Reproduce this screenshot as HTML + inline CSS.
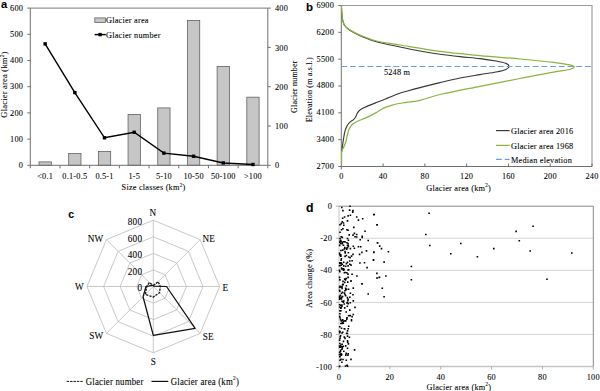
<!DOCTYPE html>
<html><head><meta charset="utf-8"><style>
html,body{margin:0;padding:0;background:#fff;width:600px;height:391px;overflow:hidden}
svg{display:block}
text{fill:#000;stroke:#000;stroke-width:0.08px}
</style></head><body>
<svg width="600" height="391" viewBox="0 0 600 391">
<rect width="600" height="391" fill="#fff"/>
<text x="0" y="0" font-size="11.2" text-anchor="start" font-family='"Liberation Sans", sans-serif' font-weight="bold" dominant-baseline="central" transform="translate(1.10,3.90) scale(1,1.0)">a</text>
<rect x="38.99" y="161.89" width="12.3" height="3.41" fill="#c6c6c6" stroke="#626262" stroke-width="0.8"/>
<rect x="68.68" y="153.51" width="12.3" height="11.79" fill="#c6c6c6" stroke="#626262" stroke-width="0.8"/>
<rect x="98.37" y="151.41" width="12.3" height="13.89" fill="#c6c6c6" stroke="#626262" stroke-width="0.8"/>
<rect x="128.06" y="114.47" width="12.3" height="50.83" fill="#c6c6c6" stroke="#626262" stroke-width="0.8"/>
<rect x="157.74" y="107.92" width="12.3" height="57.38" fill="#c6c6c6" stroke="#626262" stroke-width="0.8"/>
<rect x="187.43" y="20.41" width="12.3" height="144.89" fill="#c6c6c6" stroke="#626262" stroke-width="0.8"/>
<rect x="217.12" y="66.53" width="12.3" height="98.77" fill="#c6c6c6" stroke="#626262" stroke-width="0.8"/>
<rect x="246.81" y="97.18" width="12.3" height="68.12" fill="#c6c6c6" stroke="#626262" stroke-width="0.8"/>
<path d="M30.3,8.1 H267.8" fill="none" stroke="#959595" stroke-width="1.1"/>
<path d="M267.8,8.1 V165.3 H30.3 V8.1" fill="none" stroke="#707070" stroke-width="1"/>
<line x1="27.3" y1="165.30" x2="30.3" y2="165.30" stroke="#707070" stroke-width="1"/>
<text x="0" y="0" font-size="8.3" text-anchor="end" font-family='"Liberation Serif", serif' font-weight="normal" letter-spacing="0.2" dominant-baseline="central" transform="translate(23.10,164.90) scale(1,1.1)">0</text>
<line x1="27.3" y1="139.10" x2="30.3" y2="139.10" stroke="#707070" stroke-width="1"/>
<text x="0" y="0" font-size="8.3" text-anchor="end" font-family='"Liberation Serif", serif' font-weight="normal" letter-spacing="0.2" dominant-baseline="central" transform="translate(23.10,138.70) scale(1,1.1)">100</text>
<line x1="27.3" y1="112.90" x2="30.3" y2="112.90" stroke="#707070" stroke-width="1"/>
<text x="0" y="0" font-size="8.3" text-anchor="end" font-family='"Liberation Serif", serif' font-weight="normal" letter-spacing="0.2" dominant-baseline="central" transform="translate(23.10,112.50) scale(1,1.1)">200</text>
<line x1="27.3" y1="86.70" x2="30.3" y2="86.70" stroke="#707070" stroke-width="1"/>
<text x="0" y="0" font-size="8.3" text-anchor="end" font-family='"Liberation Serif", serif' font-weight="normal" letter-spacing="0.2" dominant-baseline="central" transform="translate(23.10,86.30) scale(1,1.1)">300</text>
<line x1="27.3" y1="60.50" x2="30.3" y2="60.50" stroke="#707070" stroke-width="1"/>
<text x="0" y="0" font-size="8.3" text-anchor="end" font-family='"Liberation Serif", serif' font-weight="normal" letter-spacing="0.2" dominant-baseline="central" transform="translate(23.10,60.10) scale(1,1.1)">400</text>
<line x1="27.3" y1="34.30" x2="30.3" y2="34.30" stroke="#707070" stroke-width="1"/>
<text x="0" y="0" font-size="8.3" text-anchor="end" font-family='"Liberation Serif", serif' font-weight="normal" letter-spacing="0.2" dominant-baseline="central" transform="translate(23.10,33.90) scale(1,1.1)">500</text>
<line x1="27.3" y1="8.10" x2="30.3" y2="8.10" stroke="#707070" stroke-width="1"/>
<text x="0" y="0" font-size="8.3" text-anchor="end" font-family='"Liberation Serif", serif' font-weight="normal" letter-spacing="0.2" dominant-baseline="central" transform="translate(23.10,7.70) scale(1,1.1)">600</text>
<line x1="267.8" y1="165.30" x2="270.8" y2="165.30" stroke="#707070" stroke-width="1"/>
<text x="0" y="0" font-size="8.3" text-anchor="start" font-family='"Liberation Serif", serif' font-weight="normal" letter-spacing="0.2" dominant-baseline="central" transform="translate(275.00,165.30) scale(1,1.1)">0</text>
<line x1="267.8" y1="126.00" x2="270.8" y2="126.00" stroke="#707070" stroke-width="1"/>
<text x="0" y="0" font-size="8.3" text-anchor="start" font-family='"Liberation Serif", serif' font-weight="normal" letter-spacing="0.2" dominant-baseline="central" transform="translate(275.00,126.00) scale(1,1.1)">100</text>
<line x1="267.8" y1="86.70" x2="270.8" y2="86.70" stroke="#707070" stroke-width="1"/>
<text x="0" y="0" font-size="8.3" text-anchor="start" font-family='"Liberation Serif", serif' font-weight="normal" letter-spacing="0.2" dominant-baseline="central" transform="translate(275.00,86.70) scale(1,1.1)">200</text>
<line x1="267.8" y1="47.40" x2="270.8" y2="47.40" stroke="#707070" stroke-width="1"/>
<text x="0" y="0" font-size="8.3" text-anchor="start" font-family='"Liberation Serif", serif' font-weight="normal" letter-spacing="0.2" dominant-baseline="central" transform="translate(275.00,47.40) scale(1,1.1)">300</text>
<line x1="267.8" y1="8.10" x2="270.8" y2="8.10" stroke="#707070" stroke-width="1"/>
<text x="0" y="0" font-size="8.3" text-anchor="start" font-family='"Liberation Serif", serif' font-weight="normal" letter-spacing="0.2" dominant-baseline="central" transform="translate(275.00,8.10) scale(1,1.1)">400</text>
<line x1="30.30" y1="165.3" x2="30.30" y2="168.3" stroke="#707070" stroke-width="1"/>
<line x1="59.99" y1="165.3" x2="59.99" y2="168.3" stroke="#707070" stroke-width="1"/>
<line x1="89.67" y1="165.3" x2="89.67" y2="168.3" stroke="#707070" stroke-width="1"/>
<line x1="119.36" y1="165.3" x2="119.36" y2="168.3" stroke="#707070" stroke-width="1"/>
<line x1="149.05" y1="165.3" x2="149.05" y2="168.3" stroke="#707070" stroke-width="1"/>
<line x1="178.74" y1="165.3" x2="178.74" y2="168.3" stroke="#707070" stroke-width="1"/>
<line x1="208.43" y1="165.3" x2="208.43" y2="168.3" stroke="#707070" stroke-width="1"/>
<line x1="238.11" y1="165.3" x2="238.11" y2="168.3" stroke="#707070" stroke-width="1"/>
<line x1="267.80" y1="165.3" x2="267.80" y2="168.3" stroke="#707070" stroke-width="1"/>
<text x="0" y="0" font-size="8.3" text-anchor="middle" font-family='"Liberation Serif", serif' font-weight="normal" letter-spacing="0.2" dominant-baseline="central" transform="translate(45.14,176.00) scale(1,1.1)">&lt;0.1</text>
<text x="0" y="0" font-size="8.3" text-anchor="middle" font-family='"Liberation Serif", serif' font-weight="normal" letter-spacing="0.2" dominant-baseline="central" transform="translate(74.83,176.00) scale(1,1.1)">0.1-0.5</text>
<text x="0" y="0" font-size="8.3" text-anchor="middle" font-family='"Liberation Serif", serif' font-weight="normal" letter-spacing="0.2" dominant-baseline="central" transform="translate(104.52,176.00) scale(1,1.1)">0.5-1</text>
<text x="0" y="0" font-size="8.3" text-anchor="middle" font-family='"Liberation Serif", serif' font-weight="normal" letter-spacing="0.2" dominant-baseline="central" transform="translate(134.21,176.00) scale(1,1.1)">1-5</text>
<text x="0" y="0" font-size="8.3" text-anchor="middle" font-family='"Liberation Serif", serif' font-weight="normal" letter-spacing="0.2" dominant-baseline="central" transform="translate(163.89,176.00) scale(1,1.1)">5-10</text>
<text x="0" y="0" font-size="8.3" text-anchor="middle" font-family='"Liberation Serif", serif' font-weight="normal" letter-spacing="0.2" dominant-baseline="central" transform="translate(193.58,176.00) scale(1,1.1)">10-50</text>
<text x="0" y="0" font-size="8.3" text-anchor="middle" font-family='"Liberation Serif", serif' font-weight="normal" letter-spacing="0.2" dominant-baseline="central" transform="translate(223.27,176.00) scale(1,1.1)">50-100</text>
<text x="0" y="0" font-size="8.3" text-anchor="middle" font-family='"Liberation Serif", serif' font-weight="normal" letter-spacing="0.2" dominant-baseline="central" transform="translate(252.96,176.00) scale(1,1.1)">&gt;100</text>
<text x="0" y="0" font-size="8.3" text-anchor="middle" font-family='"Liberation Serif", serif' font-weight="normal" letter-spacing="0.2" dominant-baseline="central" transform="translate(153.50,187.30) scale(1,1.1)">Size classes (km<tspan font-size="5.2" dy="-2.6">2</tspan><tspan dy="2.6">)</tspan></text>
<g transform="translate(4.4,84.6) rotate(-90)"><text x="0" y="0" font-size="8.5" text-anchor="middle" font-family='"Liberation Serif", serif' font-weight="normal" letter-spacing="0.2" dominant-baseline="central">Glacier area (km<tspan font-size="5.2" dy="-2.6">2</tspan><tspan dy="2.6">)</tspan></text></g>
<g transform="translate(294.5,86.7) rotate(-90)"><text x="0" y="0" font-size="7.95" text-anchor="middle" font-family='"Liberation Serif", serif' font-weight="normal" letter-spacing="0.2" dominant-baseline="central">Glacier number</text></g>
<polyline points="45.14,43.86 74.83,92.59 104.52,137.79 134.21,132.29 163.89,153.12 193.58,156.26 223.27,162.94 252.96,164.51" fill="none" stroke="#000" stroke-width="1.4"/>
<rect x="43.44" y="42.16" width="3.4" height="3.4" fill="#000"/>
<rect x="73.13" y="90.89" width="3.4" height="3.4" fill="#000"/>
<rect x="102.82" y="136.09" width="3.4" height="3.4" fill="#000"/>
<rect x="132.51" y="130.59" width="3.4" height="3.4" fill="#000"/>
<rect x="162.19" y="151.42" width="3.4" height="3.4" fill="#000"/>
<rect x="191.88" y="154.56" width="3.4" height="3.4" fill="#000"/>
<rect x="221.57" y="161.24" width="3.4" height="3.4" fill="#000"/>
<rect x="251.26" y="162.81" width="3.4" height="3.4" fill="#000"/>
<rect x="94.8" y="17.9" width="10.6" height="4.6" fill="#c6c6c6" stroke="#626262" stroke-width="0.8"/>
<text x="0" y="0" font-size="8.3" text-anchor="start" font-family='"Liberation Serif", serif' font-weight="normal" letter-spacing="0.2" dominant-baseline="central" transform="translate(106.00,20.20) scale(1,1.1)">Glacier area</text>
<line x1="94.6" y1="34.6" x2="105.8" y2="34.6" stroke="#000" stroke-width="1.4"/>
<rect x="98.4" y="32.9" width="3.4" height="3.4" fill="#000"/>
<text x="0" y="0" font-size="8.3" text-anchor="start" font-family='"Liberation Serif", serif' font-weight="normal" letter-spacing="0.2" dominant-baseline="central" transform="translate(106.00,34.60) scale(1,1.1)">Glacier number</text>
<text x="0" y="0" font-size="11.5" text-anchor="start" font-family='"Liberation Sans", sans-serif' font-weight="bold" dominant-baseline="central" transform="translate(305.90,7.00) scale(1,1.0)">b</text>
<path d="M341.3,5.5 H592.0 V166.5" fill="none" stroke="#9a9a9a" stroke-width="1.1"/>
<path d="M341.3,5.5 V166.5 H592.0" fill="none" stroke="#707070" stroke-width="1"/>
<line x1="338.3" y1="166.50" x2="341.3" y2="166.50" stroke="#707070" stroke-width="1"/>
<text x="0" y="0" font-size="8.3" text-anchor="end" font-family='"Liberation Serif", serif' font-weight="normal" letter-spacing="0.2" dominant-baseline="central" transform="translate(334.00,165.80) scale(1,1.1)">2700</text>
<line x1="338.3" y1="139.67" x2="341.3" y2="139.67" stroke="#707070" stroke-width="1"/>
<text x="0" y="0" font-size="8.3" text-anchor="end" font-family='"Liberation Serif", serif' font-weight="normal" letter-spacing="0.2" dominant-baseline="central" transform="translate(334.00,138.97) scale(1,1.1)">3400</text>
<line x1="338.3" y1="112.83" x2="341.3" y2="112.83" stroke="#707070" stroke-width="1"/>
<text x="0" y="0" font-size="8.3" text-anchor="end" font-family='"Liberation Serif", serif' font-weight="normal" letter-spacing="0.2" dominant-baseline="central" transform="translate(334.00,112.13) scale(1,1.1)">4100</text>
<line x1="338.3" y1="86.00" x2="341.3" y2="86.00" stroke="#707070" stroke-width="1"/>
<text x="0" y="0" font-size="8.3" text-anchor="end" font-family='"Liberation Serif", serif' font-weight="normal" letter-spacing="0.2" dominant-baseline="central" transform="translate(334.00,85.30) scale(1,1.1)">4800</text>
<line x1="338.3" y1="59.17" x2="341.3" y2="59.17" stroke="#707070" stroke-width="1"/>
<text x="0" y="0" font-size="8.3" text-anchor="end" font-family='"Liberation Serif", serif' font-weight="normal" letter-spacing="0.2" dominant-baseline="central" transform="translate(334.00,58.47) scale(1,1.1)">5500</text>
<line x1="338.3" y1="32.33" x2="341.3" y2="32.33" stroke="#707070" stroke-width="1"/>
<text x="0" y="0" font-size="8.3" text-anchor="end" font-family='"Liberation Serif", serif' font-weight="normal" letter-spacing="0.2" dominant-baseline="central" transform="translate(334.00,31.63) scale(1,1.1)">6200</text>
<line x1="338.3" y1="5.50" x2="341.3" y2="5.50" stroke="#707070" stroke-width="1"/>
<text x="0" y="0" font-size="8.3" text-anchor="end" font-family='"Liberation Serif", serif' font-weight="normal" letter-spacing="0.2" dominant-baseline="central" transform="translate(334.00,4.80) scale(1,1.1)">6900</text>
<line x1="341.30" y1="166.5" x2="341.30" y2="169.5" stroke="#707070" stroke-width="1"/>
<text x="0" y="0" font-size="8.3" text-anchor="middle" font-family='"Liberation Serif", serif' font-weight="normal" letter-spacing="0.2" dominant-baseline="central" transform="translate(341.30,176.30) scale(1,1.1)">0</text>
<line x1="383.08" y1="163.5" x2="383.08" y2="166.5" stroke="#707070" stroke-width="1"/>
<text x="0" y="0" font-size="8.3" text-anchor="middle" font-family='"Liberation Serif", serif' font-weight="normal" letter-spacing="0.2" dominant-baseline="central" transform="translate(383.08,176.30) scale(1,1.1)">40</text>
<line x1="424.87" y1="163.5" x2="424.87" y2="166.5" stroke="#707070" stroke-width="1"/>
<text x="0" y="0" font-size="8.3" text-anchor="middle" font-family='"Liberation Serif", serif' font-weight="normal" letter-spacing="0.2" dominant-baseline="central" transform="translate(424.87,176.30) scale(1,1.1)">80</text>
<line x1="466.65" y1="163.5" x2="466.65" y2="166.5" stroke="#707070" stroke-width="1"/>
<text x="0" y="0" font-size="8.3" text-anchor="middle" font-family='"Liberation Serif", serif' font-weight="normal" letter-spacing="0.2" dominant-baseline="central" transform="translate(466.65,176.30) scale(1,1.1)">120</text>
<line x1="508.43" y1="163.5" x2="508.43" y2="166.5" stroke="#707070" stroke-width="1"/>
<text x="0" y="0" font-size="8.3" text-anchor="middle" font-family='"Liberation Serif", serif' font-weight="normal" letter-spacing="0.2" dominant-baseline="central" transform="translate(508.43,176.30) scale(1,1.1)">160</text>
<line x1="550.22" y1="163.5" x2="550.22" y2="166.5" stroke="#707070" stroke-width="1"/>
<text x="0" y="0" font-size="8.3" text-anchor="middle" font-family='"Liberation Serif", serif' font-weight="normal" letter-spacing="0.2" dominant-baseline="central" transform="translate(550.22,176.30) scale(1,1.1)">200</text>
<line x1="592.00" y1="163.5" x2="592.00" y2="166.5" stroke="#707070" stroke-width="1"/>
<text x="0" y="0" font-size="8.3" text-anchor="middle" font-family='"Liberation Serif", serif' font-weight="normal" letter-spacing="0.2" dominant-baseline="central" transform="translate(592.00,176.30) scale(1,1.1)">240</text>
<text x="0" y="0" font-size="8.3" text-anchor="middle" font-family='"Liberation Serif", serif' font-weight="normal" letter-spacing="0.2" dominant-baseline="central" transform="translate(458.60,187.50) scale(1,1.1)">Glacier area (km<tspan font-size="5.2" dy="-2.6">2</tspan><tspan dy="2.6">)</tspan></text>
<g transform="translate(309.8,89.8) rotate(-90)"><text x="0" y="0" font-size="8.0" text-anchor="middle" font-family='"Liberation Serif", serif' font-weight="normal" letter-spacing="0.2" dominant-baseline="central">Elevation (m a.s.l.)</text></g>
<path d="M341.60,152.00 C341.70,151.40 341.98,149.90 342.20,148.40 C342.42,146.90 342.60,145.10 342.90,143.00 C343.20,140.90 343.62,137.90 344.00,135.80 C344.38,133.70 344.70,132.03 345.20,130.40 C345.70,128.77 346.25,127.33 347.00,126.00 C347.75,124.67 348.60,123.47 349.70,122.40 C350.80,121.33 352.58,120.53 353.60,119.60 C354.62,118.67 355.13,117.97 355.80,116.80 C356.47,115.63 356.80,113.83 357.60,112.60 C358.40,111.37 359.12,110.40 360.60,109.40 C362.08,108.40 363.63,107.83 366.50,106.60 C369.37,105.37 374.20,103.45 377.80,102.00 C381.40,100.55 384.68,99.27 388.10,97.90 C391.52,96.53 394.90,95.00 398.30,93.80 C401.70,92.60 404.88,91.73 408.50,90.70 C412.12,89.67 414.75,88.95 420.00,87.60 C425.25,86.25 433.33,84.20 440.00,82.60 C446.67,81.00 453.33,79.33 460.00,78.00 C466.67,76.67 474.00,75.60 480.00,74.60 C486.00,73.60 491.67,72.87 496.00,72.00 C500.33,71.13 503.83,70.37 506.00,69.40 C508.17,68.43 509.00,67.20 509.00,66.20 C509.00,65.20 508.17,64.27 506.00,63.40 C503.83,62.53 500.33,61.80 496.00,61.00 C491.67,60.20 486.00,59.33 480.00,58.60 C474.00,57.87 466.67,57.33 460.00,56.60 C453.33,55.87 446.67,55.13 440.00,54.20 C433.33,53.27 426.67,52.20 420.00,51.00 C413.33,49.80 407.27,48.53 400.00,47.00 C392.73,45.47 382.47,43.43 376.40,41.80 C370.33,40.17 367.23,38.67 363.60,37.20 C359.97,35.73 357.17,34.37 354.60,33.00 C352.03,31.63 349.90,30.30 348.20,29.00 C346.50,27.70 345.35,26.78 344.40,25.20 C343.45,23.62 342.93,21.53 342.50,19.50 C342.07,17.47 341.97,14.92 341.80,13.00 C341.63,11.08 341.55,8.83 341.50,8.00" fill="none" stroke="#383838" stroke-width="1.15"/>
<path d="M341.60,163.00 C341.63,161.00 341.47,153.58 341.80,151.00 C342.13,148.42 342.93,149.00 343.60,147.50 C344.27,146.00 345.13,144.25 345.80,142.00 C346.47,139.75 346.98,136.28 347.60,134.00 C348.22,131.72 348.68,129.92 349.50,128.30 C350.32,126.68 351.25,125.43 352.50,124.30 C353.75,123.17 354.78,122.57 357.00,121.50 C359.22,120.43 362.83,119.25 365.80,117.90 C368.77,116.55 371.82,115.03 374.80,113.40 C377.78,111.77 380.80,109.48 383.70,108.10 C386.60,106.72 389.08,105.95 392.20,105.10 C395.32,104.25 397.77,103.80 402.40,103.00 C407.03,102.20 413.40,101.80 420.00,100.30 C426.60,98.80 432.00,96.33 442.00,94.00 C452.00,91.67 467.00,88.88 480.00,86.30 C493.00,83.72 507.78,80.85 520.00,78.50 C532.22,76.15 545.02,73.70 553.30,72.20 C561.58,70.70 566.20,70.43 569.70,69.50 C573.20,68.57 574.30,67.38 574.30,66.60 C574.30,65.82 573.20,65.52 569.70,64.80 C566.20,64.08 561.58,63.27 553.30,62.30 C545.02,61.33 532.22,60.12 520.00,59.00 C507.78,57.88 493.33,56.87 480.00,55.60 C466.67,54.33 453.33,53.17 440.00,51.40 C426.67,49.63 410.60,46.73 400.00,45.00 C389.40,43.27 382.47,42.42 376.40,41.00 C370.33,39.58 367.23,37.90 363.60,36.50 C359.97,35.10 357.17,33.88 354.60,32.60 C352.03,31.32 349.90,30.07 348.20,28.80 C346.50,27.53 345.35,26.60 344.40,25.00 C343.45,23.40 342.93,21.23 342.50,19.20 C342.07,17.17 341.97,14.93 341.80,12.80 C341.63,10.67 341.55,7.47 341.50,6.40" fill="none" stroke="#8ab440" stroke-width="1.25"/>
<line x1="341.3" y1="66.5" x2="592.0" y2="66.5" stroke="#67a0e0" stroke-width="1.15" stroke-dasharray="5.8 2.9"/>
<text x="0" y="0" font-size="8.3" text-anchor="start" font-family='"Liberation Serif", serif' font-weight="normal" letter-spacing="0.2" dominant-baseline="central" transform="translate(383.90,71.80) scale(1,1.1)">5248 m</text>
<line x1="496" y1="130.6" x2="509.6" y2="130.6" stroke="#383838" stroke-width="1.15"/>
<text x="0" y="0" font-size="8.3" text-anchor="start" font-family='"Liberation Serif", serif' font-weight="normal" letter-spacing="0.2" dominant-baseline="central" transform="translate(511.00,130.60) scale(1,1.1)">Glacier area 2016</text>
<line x1="496" y1="145.4" x2="509.6" y2="145.4" stroke="#8ab440" stroke-width="1.25"/>
<text x="0" y="0" font-size="8.3" text-anchor="start" font-family='"Liberation Serif", serif' font-weight="normal" letter-spacing="0.2" dominant-baseline="central" transform="translate(511.00,145.40) scale(1,1.1)">Glacier area 1968</text>
<line x1="496" y1="159.4" x2="509.6" y2="159.4" stroke="#67a0e0" stroke-width="1.15" stroke-dasharray="5.8 2.9"/>
<text x="0" y="0" font-size="8.3" text-anchor="start" font-family='"Liberation Serif", serif' font-weight="normal" letter-spacing="0.2" dominant-baseline="central" transform="translate(511.00,159.40) scale(1,1.1)">Median elevation</text>
<text x="0" y="0" font-size="10.5" text-anchor="start" font-family='"Liberation Sans", sans-serif' font-weight="bold" dominant-baseline="central" transform="translate(68.30,214.40) scale(1,1.0)">c</text>
<polygon points="153.30,269.93 165.02,274.78 169.88,286.50 165.02,298.22 153.30,303.07 141.58,298.22 136.73,286.50 141.58,274.78" fill="none" stroke="#c3c3c3" stroke-width="0.9"/>
<polygon points="153.30,253.35 176.74,263.06 186.45,286.50 176.74,309.94 153.30,319.65 129.86,309.94 120.15,286.50 129.86,263.06" fill="none" stroke="#c3c3c3" stroke-width="0.9"/>
<polygon points="153.30,236.78 188.46,251.34 203.03,286.50 188.46,321.66 153.30,336.23 118.14,321.66 103.58,286.50 118.14,251.34" fill="none" stroke="#c3c3c3" stroke-width="0.9"/>
<polygon points="153.30,220.20 200.18,239.62 219.60,286.50 200.18,333.38 153.30,352.80 106.42,333.38 87.00,286.50 106.42,239.62" fill="none" stroke="#c3c3c3" stroke-width="0.9"/>
<line x1="153.3" y1="286.5" x2="153.30" y2="220.20" stroke="#c3c3c3" stroke-width="0.9"/>
<line x1="153.3" y1="286.5" x2="200.18" y2="239.62" stroke="#c3c3c3" stroke-width="0.9"/>
<line x1="153.3" y1="286.5" x2="219.60" y2="286.50" stroke="#c3c3c3" stroke-width="0.9"/>
<line x1="153.3" y1="286.5" x2="200.18" y2="333.38" stroke="#c3c3c3" stroke-width="0.9"/>
<line x1="153.3" y1="286.5" x2="153.30" y2="352.80" stroke="#c3c3c3" stroke-width="0.9"/>
<line x1="153.3" y1="286.5" x2="106.42" y2="333.38" stroke="#c3c3c3" stroke-width="0.9"/>
<line x1="153.3" y1="286.5" x2="87.00" y2="286.50" stroke="#c3c3c3" stroke-width="0.9"/>
<line x1="153.3" y1="286.5" x2="106.42" y2="239.62" stroke="#c3c3c3" stroke-width="0.9"/>
<text x="0" y="0" font-size="9.2" text-anchor="end" font-family='"Liberation Serif", serif' font-weight="normal" letter-spacing="0.2" dominant-baseline="central" transform="translate(142.20,287.60) scale(1,1.1)">0</text>
<text x="0" y="0" font-size="9.2" text-anchor="end" font-family='"Liberation Serif", serif' font-weight="normal" letter-spacing="0.2" dominant-baseline="central" transform="translate(142.20,271.03) scale(1,1.1)">200</text>
<text x="0" y="0" font-size="9.2" text-anchor="end" font-family='"Liberation Serif", serif' font-weight="normal" letter-spacing="0.2" dominant-baseline="central" transform="translate(142.20,254.45) scale(1,1.1)">400</text>
<text x="0" y="0" font-size="9.2" text-anchor="end" font-family='"Liberation Serif", serif' font-weight="normal" letter-spacing="0.2" dominant-baseline="central" transform="translate(142.20,237.88) scale(1,1.1)">600</text>
<text x="0" y="0" font-size="9.2" text-anchor="end" font-family='"Liberation Serif", serif' font-weight="normal" letter-spacing="0.2" dominant-baseline="central" transform="translate(142.20,221.30) scale(1,1.1)">800</text>
<text x="0" y="0" font-size="9.2" text-anchor="middle" font-family='"Liberation Serif", serif' font-weight="normal" letter-spacing="0.2" dominant-baseline="central" transform="translate(152.90,212.00) scale(1,1.1)">N</text>
<text x="0" y="0" font-size="9.2" text-anchor="middle" font-family='"Liberation Serif", serif' font-weight="normal" letter-spacing="0.2" dominant-baseline="central" transform="translate(208.70,238.20) scale(1,1.1)">NE</text>
<text x="0" y="0" font-size="9.2" text-anchor="middle" font-family='"Liberation Serif", serif' font-weight="normal" letter-spacing="0.2" dominant-baseline="central" transform="translate(225.30,287.30) scale(1,1.1)">E</text>
<text x="0" y="0" font-size="9.2" text-anchor="middle" font-family='"Liberation Serif", serif' font-weight="normal" letter-spacing="0.2" dominant-baseline="central" transform="translate(208.20,336.10) scale(1,1.1)">SE</text>
<text x="0" y="0" font-size="9.2" text-anchor="middle" font-family='"Liberation Serif", serif' font-weight="normal" letter-spacing="0.2" dominant-baseline="central" transform="translate(153.30,361.70) scale(1,1.1)">S</text>
<text x="0" y="0" font-size="9.2" text-anchor="middle" font-family='"Liberation Serif", serif' font-weight="normal" letter-spacing="0.2" dominant-baseline="central" transform="translate(96.30,335.70) scale(1,1.1)">SW</text>
<text x="0" y="0" font-size="9.2" text-anchor="middle" font-family='"Liberation Serif", serif' font-weight="normal" letter-spacing="0.2" dominant-baseline="central" transform="translate(79.40,286.60) scale(1,1.1)">W</text>
<text x="0" y="0" font-size="9.2" text-anchor="middle" font-family='"Liberation Serif", serif' font-weight="normal" letter-spacing="0.2" dominant-baseline="central" transform="translate(95.50,238.20) scale(1,1.1)">NW</text>
<polygon points="153.30,285.50 158.18,281.62 160.30,286.50 159.52,292.72 153.30,297.00 145.31,294.49 146.70,286.50 149.27,282.47" fill="none" stroke="#111" stroke-width="1.3" stroke-dasharray="2.3 1.1"/>
<polygon points="153.30,285.50 153.65,286.15 166.50,286.50 195.16,328.36 153.30,335.30 143.05,296.75 146.00,286.50 152.24,285.44" fill="none" stroke="#111" stroke-width="1.25" stroke-linejoin="round"/>
<line x1="66.7" y1="381.4" x2="83.3" y2="381.4" stroke="#111" stroke-width="1" stroke-dasharray="2.4 1"/>
<text x="0" y="0" font-size="8.8" text-anchor="start" font-family='"Liberation Serif", serif' font-weight="normal" letter-spacing="0.2" dominant-baseline="central" transform="translate(85.80,381.40) scale(1,1.1)">Glacier number</text>
<line x1="151.5" y1="381.4" x2="168.3" y2="381.4" stroke="#111" stroke-width="1.2"/>
<text x="0" y="0" font-size="8.8" text-anchor="start" font-family='"Liberation Serif", serif' font-weight="normal" letter-spacing="0.2" dominant-baseline="central" transform="translate(170.70,381.40) scale(1,1.1)">Glacier area (km<tspan font-size="5.4" dy="-2.9">2</tspan><tspan dy="2.9">)</tspan></text>
<text x="0" y="0" font-size="12.3" text-anchor="start" font-family='"Liberation Sans", sans-serif' font-weight="bold" dominant-baseline="central" transform="translate(306.00,207.90) scale(1,1.0)">d</text>
<line x1="339.0" y1="238.26" x2="593.3" y2="238.26" stroke="#cfcfcf" stroke-width="0.9"/>
<line x1="339.0" y1="270.32" x2="593.3" y2="270.32" stroke="#cfcfcf" stroke-width="0.9"/>
<line x1="339.0" y1="302.38" x2="593.3" y2="302.38" stroke="#cfcfcf" stroke-width="0.9"/>
<line x1="339.0" y1="334.44" x2="593.3" y2="334.44" stroke="#cfcfcf" stroke-width="0.9"/>
<path d="M339.0,366.5 V206.2" fill="none" stroke="#cfcfcf" stroke-width="1.2"/>
<path d="M339.0,366.5 H593.3" fill="none" stroke="#c4c4c4" stroke-width="1.3"/>
<path d="M339.0,206.2 H593.3 V366.5" fill="none" stroke="#8a8a8a" stroke-width="1"/>
<line x1="336.0" y1="206.20" x2="339.0" y2="206.20" stroke="#b0b0b0" stroke-width="1"/>
<text x="0" y="0" font-size="8.3" text-anchor="end" font-family='"Liberation Serif", serif' font-weight="normal" letter-spacing="0.2" dominant-baseline="central" transform="translate(332.00,206.20) scale(1,1.1)">0</text>
<line x1="336.0" y1="238.26" x2="339.0" y2="238.26" stroke="#b0b0b0" stroke-width="1"/>
<text x="0" y="0" font-size="8.3" text-anchor="end" font-family='"Liberation Serif", serif' font-weight="normal" letter-spacing="0.2" dominant-baseline="central" transform="translate(332.00,238.26) scale(1,1.1)">-20</text>
<line x1="336.0" y1="270.32" x2="339.0" y2="270.32" stroke="#b0b0b0" stroke-width="1"/>
<text x="0" y="0" font-size="8.3" text-anchor="end" font-family='"Liberation Serif", serif' font-weight="normal" letter-spacing="0.2" dominant-baseline="central" transform="translate(332.00,270.32) scale(1,1.1)">-40</text>
<line x1="336.0" y1="302.38" x2="339.0" y2="302.38" stroke="#b0b0b0" stroke-width="1"/>
<text x="0" y="0" font-size="8.3" text-anchor="end" font-family='"Liberation Serif", serif' font-weight="normal" letter-spacing="0.2" dominant-baseline="central" transform="translate(332.00,302.38) scale(1,1.1)">-60</text>
<line x1="336.0" y1="334.44" x2="339.0" y2="334.44" stroke="#b0b0b0" stroke-width="1"/>
<text x="0" y="0" font-size="8.3" text-anchor="end" font-family='"Liberation Serif", serif' font-weight="normal" letter-spacing="0.2" dominant-baseline="central" transform="translate(332.00,334.44) scale(1,1.1)">-80</text>
<line x1="336.0" y1="366.50" x2="339.0" y2="366.50" stroke="#b0b0b0" stroke-width="1"/>
<text x="0" y="0" font-size="8.3" text-anchor="end" font-family='"Liberation Serif", serif' font-weight="normal" letter-spacing="0.2" dominant-baseline="central" transform="translate(332.00,366.50) scale(1,1.1)">-100</text>
<line x1="339.00" y1="366.5" x2="339.00" y2="369.5" stroke="#b0b0b0" stroke-width="1"/>
<text x="0" y="0" font-size="8.3" text-anchor="middle" font-family='"Liberation Serif", serif' font-weight="normal" letter-spacing="0.2" dominant-baseline="central" transform="translate(339.00,377.10) scale(1,1.1)">0</text>
<line x1="389.86" y1="366.5" x2="389.86" y2="369.5" stroke="#b0b0b0" stroke-width="1"/>
<text x="0" y="0" font-size="8.3" text-anchor="middle" font-family='"Liberation Serif", serif' font-weight="normal" letter-spacing="0.2" dominant-baseline="central" transform="translate(389.86,377.10) scale(1,1.1)">20</text>
<line x1="440.72" y1="366.5" x2="440.72" y2="369.5" stroke="#b0b0b0" stroke-width="1"/>
<text x="0" y="0" font-size="8.3" text-anchor="middle" font-family='"Liberation Serif", serif' font-weight="normal" letter-spacing="0.2" dominant-baseline="central" transform="translate(440.72,377.10) scale(1,1.1)">40</text>
<line x1="491.58" y1="366.5" x2="491.58" y2="369.5" stroke="#b0b0b0" stroke-width="1"/>
<text x="0" y="0" font-size="8.3" text-anchor="middle" font-family='"Liberation Serif", serif' font-weight="normal" letter-spacing="0.2" dominant-baseline="central" transform="translate(491.58,377.10) scale(1,1.1)">60</text>
<line x1="542.44" y1="366.5" x2="542.44" y2="369.5" stroke="#b0b0b0" stroke-width="1"/>
<text x="0" y="0" font-size="8.3" text-anchor="middle" font-family='"Liberation Serif", serif' font-weight="normal" letter-spacing="0.2" dominant-baseline="central" transform="translate(542.44,377.10) scale(1,1.1)">80</text>
<line x1="593.30" y1="366.5" x2="593.30" y2="369.5" stroke="#b0b0b0" stroke-width="1"/>
<text x="0" y="0" font-size="8.3" text-anchor="middle" font-family='"Liberation Serif", serif' font-weight="normal" letter-spacing="0.2" dominant-baseline="central" transform="translate(593.30,377.10) scale(1,1.1)">100</text>
<text x="0" y="0" font-size="8.3" text-anchor="middle" font-family='"Liberation Serif", serif' font-weight="normal" letter-spacing="0.2" dominant-baseline="central" transform="translate(458.80,386.40) scale(1,1.1)">Glacier area (km<tspan font-size="5.2" dy="-2.6">2</tspan><tspan dy="2.6">)</tspan></text>
<g transform="translate(309,278.4) rotate(-90)"><text x="0" y="0" font-size="8.3" text-anchor="middle" font-family='"Liberation Serif", serif' font-weight="normal" letter-spacing="0.2" dominant-baseline="central">Area change (%)</text></g>
<path d="M341.0,206.7h1.6v1.6h-1.6zM349.2,205.5h1.6v1.6h-1.6zM342.1,209.8h1.6v1.6h-1.6zM348.8,209.3h1.6v1.6h-1.6zM352.2,209.8h1.6v1.6h-1.6zM351.9,211.3h1.6v1.6h-1.6zM373.5,213.7h1.6v1.6h-1.6zM343.8,216.2h1.6v1.6h-1.6zM347.3,215.1h1.6v1.6h-1.6zM349.6,214.4h1.6v1.6h-1.6zM341.9,217.4h1.6v1.6h-1.6zM355.9,216.2h1.6v1.6h-1.6zM361.9,218.0h1.6v1.6h-1.6zM357.6,219.3h1.6v1.6h-1.6zM346.7,220.1h1.6v1.6h-1.6zM341.5,221.1h1.6v1.6h-1.6zM340.4,222.8h1.6v1.6h-1.6zM342.7,222.2h1.6v1.6h-1.6zM339.2,223.9h1.6v1.6h-1.6zM343.0,224.5h1.6v1.6h-1.6zM376.4,224.1h1.6v1.6h-1.6zM353.0,226.6h1.6v1.6h-1.6zM342.1,228.0h1.6v1.6h-1.6zM340.7,228.9h1.6v1.6h-1.6zM346.1,228.9h1.6v1.6h-1.6zM347.3,229.5h1.6v1.6h-1.6zM339.2,231.4h1.6v1.6h-1.6zM364.2,230.5h1.6v1.6h-1.6zM353.6,232.6h1.6v1.6h-1.6zM355.9,233.7h1.6v1.6h-1.6zM348.4,234.1h1.6v1.6h-1.6zM352.2,234.3h1.6v1.6h-1.6zM354.2,236.0h1.6v1.6h-1.6zM355.9,236.2h1.6v1.6h-1.6zM361.4,235.4h1.6v1.6h-1.6zM361.4,236.6h1.6v1.6h-1.6zM340.4,236.0h1.6v1.6h-1.6zM341.5,236.6h1.6v1.6h-1.6zM339.2,237.7h1.6v1.6h-1.6zM346.7,237.7h1.6v1.6h-1.6zM359.4,238.9h1.6v1.6h-1.6zM347.6,239.5h1.6v1.6h-1.6zM339.8,239.5h1.6v1.6h-1.6zM367.4,239.7h1.6v1.6h-1.6zM376.6,242.0h1.6v1.6h-1.6zM346.1,242.0h1.6v1.6h-1.6zM339.8,242.7h1.6v1.6h-1.6zM341.5,241.5h1.6v1.6h-1.6zM378.9,245.5h1.6v1.6h-1.6zM346.7,244.7h1.6v1.6h-1.6zM346.1,247.2h1.6v1.6h-1.6zM352.5,245.5h1.6v1.6h-1.6zM353.6,247.5h1.6v1.6h-1.6zM349.6,247.8h1.6v1.6h-1.6zM357.6,245.9h1.6v1.6h-1.6zM359.9,245.9h1.6v1.6h-1.6zM365.7,250.1h1.6v1.6h-1.6zM373.2,251.3h1.6v1.6h-1.6zM361.1,251.6h1.6v1.6h-1.6zM358.8,253.6h1.6v1.6h-1.6zM352.2,253.6h1.6v1.6h-1.6zM350.7,255.3h1.6v1.6h-1.6zM347.9,256.2h1.6v1.6h-1.6zM344.4,252.1h1.6v1.6h-1.6zM345.6,254.7h1.6v1.6h-1.6zM351.3,259.9h1.6v1.6h-1.6zM349.0,260.2h1.6v1.6h-1.6zM346.7,261.6h1.6v1.6h-1.6zM345.6,262.8h1.6v1.6h-1.6zM349.0,263.4h1.6v1.6h-1.6zM350.2,264.3h1.6v1.6h-1.6zM347.3,265.1h1.6v1.6h-1.6zM359.1,262.2h1.6v1.6h-1.6zM363.7,262.0h1.6v1.6h-1.6zM372.6,259.0h1.6v1.6h-1.6zM366.3,266.8h1.6v1.6h-1.6zM347.9,268.9h1.6v1.6h-1.6zM376.1,272.6h1.6v1.6h-1.6zM351.3,273.5h1.6v1.6h-1.6zM356.1,275.2h1.6v1.6h-1.6zM347.3,276.6h1.6v1.6h-1.6zM378.4,276.6h1.6v1.6h-1.6zM376.1,277.2h1.6v1.6h-1.6zM344.4,278.3h1.6v1.6h-1.6zM350.2,280.1h1.6v1.6h-1.6zM361.1,282.9h1.6v1.6h-1.6zM342.1,283.5h1.6v1.6h-1.6zM350.2,280.4h1.6v1.6h-1.6zM361.4,283.2h1.6v1.6h-1.6zM352.5,287.3h1.6v1.6h-1.6zM367.4,293.2h1.6v1.6h-1.6zM352.2,293.9h1.6v1.6h-1.6zM352.5,300.1h1.6v1.6h-1.6zM354.2,306.6h1.6v1.6h-1.6zM349.0,309.3h1.6v1.6h-1.6zM352.5,313.7h1.6v1.6h-1.6zM347.9,314.9h1.6v1.6h-1.6zM351.3,315.8h1.6v1.6h-1.6zM350.7,318.9h1.6v1.6h-1.6zM346.1,302.2h1.6v1.6h-1.6zM346.1,317.2h1.6v1.6h-1.6zM345.0,320.1h1.6v1.6h-1.6zM350.7,319.8h1.6v1.6h-1.6zM347.9,325.5h1.6v1.6h-1.6zM346.7,330.1h1.6v1.6h-1.6zM346.7,335.3h1.6v1.6h-1.6zM346.7,339.9h1.6v1.6h-1.6zM347.6,343.1h1.6v1.6h-1.6zM346.7,347.4h1.6v1.6h-1.6zM353.8,349.1h1.6v1.6h-1.6zM350.2,358.6h1.6v1.6h-1.6zM373.0,213.8h1.6v1.6h-1.6zM376.1,224.0h1.6v1.6h-1.6zM428.3,212.5h1.6v1.6h-1.6zM425.0,233.7h1.6v1.6h-1.6zM376.9,242.2h1.6v1.6h-1.6zM378.9,245.2h1.6v1.6h-1.6zM380.7,247.8h1.6v1.6h-1.6zM373.0,251.6h1.6v1.6h-1.6zM387.6,250.9h1.6v1.6h-1.6zM429.0,244.7h1.6v1.6h-1.6zM460.0,242.7h1.6v1.6h-1.6zM450.0,252.9h1.6v1.6h-1.6zM372.8,259.3h1.6v1.6h-1.6zM383.3,261.3h1.6v1.6h-1.6zM410.6,265.7h1.6v1.6h-1.6zM376.1,272.6h1.6v1.6h-1.6zM376.4,277.2h1.6v1.6h-1.6zM378.7,276.4h1.6v1.6h-1.6zM385.1,275.2h1.6v1.6h-1.6zM410.6,279.0h1.6v1.6h-1.6zM381.5,287.4h1.6v1.6h-1.6zM383.3,295.9h1.6v1.6h-1.6zM476.6,256.0h1.6v1.6h-1.6zM493.0,247.8h1.6v1.6h-1.6zM515.3,230.6h1.6v1.6h-1.6zM532.3,225.4h1.6v1.6h-1.6zM518.5,239.9h1.6v1.6h-1.6zM529.4,250.2h1.6v1.6h-1.6zM571.0,252.2h1.6v1.6h-1.6zM546.2,278.5h1.6v1.6h-1.6zM341.0,296.4h1.6v1.6h-1.6zM340.6,298.1h1.6v1.6h-1.6zM340.6,262.6h1.6v1.6h-1.6zM338.8,339.5h1.6v1.6h-1.6zM344.2,250.7h1.6v1.6h-1.6zM347.4,244.5h1.6v1.6h-1.6zM341.6,321.9h1.6v1.6h-1.6zM344.2,241.1h1.6v1.6h-1.6zM338.8,269.8h1.6v1.6h-1.6zM344.8,294.9h1.6v1.6h-1.6zM340.5,320.2h1.6v1.6h-1.6zM339.2,297.1h1.6v1.6h-1.6zM344.7,365.2h1.6v1.6h-1.6zM339.1,279.1h1.6v1.6h-1.6zM343.6,248.1h1.6v1.6h-1.6zM339.7,346.3h1.6v1.6h-1.6zM338.8,346.4h1.6v1.6h-1.6zM340.3,354.3h1.6v1.6h-1.6zM338.8,289.5h1.6v1.6h-1.6zM339.2,337.7h1.6v1.6h-1.6zM347.0,281.3h1.6v1.6h-1.6zM339.1,254.1h1.6v1.6h-1.6zM344.0,246.8h1.6v1.6h-1.6zM340.1,310.0h1.6v1.6h-1.6zM338.9,331.8h1.6v1.6h-1.6zM339.9,253.9h1.6v1.6h-1.6zM347.2,273.3h1.6v1.6h-1.6zM345.5,277.7h1.6v1.6h-1.6zM345.0,289.1h1.6v1.6h-1.6zM347.6,251.9h1.6v1.6h-1.6zM343.6,271.9h1.6v1.6h-1.6zM338.8,276.7h1.6v1.6h-1.6zM339.1,312.9h1.6v1.6h-1.6zM340.1,286.2h1.6v1.6h-1.6zM341.2,300.4h1.6v1.6h-1.6zM338.9,262.3h1.6v1.6h-1.6zM339.1,342.7h1.6v1.6h-1.6zM346.6,332.7h1.6v1.6h-1.6zM345.5,359.4h1.6v1.6h-1.6zM349.6,292.5h1.6v1.6h-1.6zM342.7,269.4h1.6v1.6h-1.6zM341.4,343.4h1.6v1.6h-1.6zM342.9,261.4h1.6v1.6h-1.6zM341.0,268.1h1.6v1.6h-1.6zM339.2,316.9h1.6v1.6h-1.6zM338.8,265.0h1.6v1.6h-1.6zM338.8,295.6h1.6v1.6h-1.6zM341.2,285.9h1.6v1.6h-1.6zM345.6,285.0h1.6v1.6h-1.6zM342.5,322.3h1.6v1.6h-1.6zM349.3,257.0h1.6v1.6h-1.6zM347.4,327.9h1.6v1.6h-1.6zM343.0,300.2h1.6v1.6h-1.6zM338.8,365.6h1.6v1.6h-1.6zM345.8,332.4h1.6v1.6h-1.6zM344.0,328.2h1.6v1.6h-1.6zM342.4,283.7h1.6v1.6h-1.6zM339.9,349.4h1.6v1.6h-1.6zM341.2,348.4h1.6v1.6h-1.6zM341.3,287.6h1.6v1.6h-1.6zM341.9,249.3h1.6v1.6h-1.6zM343.0,350.5h1.6v1.6h-1.6zM341.2,332.2h1.6v1.6h-1.6zM338.8,345.3h1.6v1.6h-1.6zM341.5,243.0h1.6v1.6h-1.6zM342.6,268.3h1.6v1.6h-1.6zM346.2,316.9h1.6v1.6h-1.6zM339.3,240.6h1.6v1.6h-1.6zM338.9,264.8h1.6v1.6h-1.6zM340.1,322.7h1.6v1.6h-1.6zM342.2,280.6h1.6v1.6h-1.6zM344.2,293.7h1.6v1.6h-1.6zM339.7,350.6h1.6v1.6h-1.6zM338.9,279.2h1.6v1.6h-1.6zM344.9,345.1h1.6v1.6h-1.6zM339.2,359.4h1.6v1.6h-1.6zM339.2,296.2h1.6v1.6h-1.6zM341.7,291.6h1.6v1.6h-1.6zM344.7,279.1h1.6v1.6h-1.6zM349.0,296.4h1.6v1.6h-1.6zM342.7,244.4h1.6v1.6h-1.6zM343.9,278.3h1.6v1.6h-1.6zM338.8,296.7h1.6v1.6h-1.6zM347.3,269.2h1.6v1.6h-1.6zM341.8,295.7h1.6v1.6h-1.6zM346.9,341.3h1.6v1.6h-1.6zM340.3,264.4h1.6v1.6h-1.6zM340.3,240.6h1.6v1.6h-1.6zM339.2,261.9h1.6v1.6h-1.6zM340.7,327.4h1.6v1.6h-1.6zM339.8,334.9h1.6v1.6h-1.6zM338.8,353.8h1.6v1.6h-1.6zM338.9,330.6h1.6v1.6h-1.6zM346.0,318.3h1.6v1.6h-1.6zM345.4,311.2h1.6v1.6h-1.6zM340.2,358.6h1.6v1.6h-1.6zM342.9,265.1h1.6v1.6h-1.6zM342.9,320.4h1.6v1.6h-1.6zM347.4,353.0h1.6v1.6h-1.6zM343.9,307.1h1.6v1.6h-1.6zM345.0,354.3h1.6v1.6h-1.6zM340.1,249.7h1.6v1.6h-1.6zM348.6,336.4h1.6v1.6h-1.6zM344.1,247.3h1.6v1.6h-1.6zM343.9,281.6h1.6v1.6h-1.6zM340.6,258.0h1.6v1.6h-1.6zM342.5,345.5h1.6v1.6h-1.6zM346.7,301.5h1.6v1.6h-1.6zM340.7,267.2h1.6v1.6h-1.6zM341.9,331.4h1.6v1.6h-1.6zM341.0,345.9h1.6v1.6h-1.6zM344.8,287.4h1.6v1.6h-1.6zM344.9,265.5h1.6v1.6h-1.6zM341.2,305.5h1.6v1.6h-1.6zM340.5,307.0h1.6v1.6h-1.6zM347.2,242.7h1.6v1.6h-1.6zM344.1,289.9h1.6v1.6h-1.6zM342.5,301.3h1.6v1.6h-1.6zM339.9,307.3h1.6v1.6h-1.6zM339.2,356.0h1.6v1.6h-1.6zM340.0,255.3h1.6v1.6h-1.6zM340.3,353.1h1.6v1.6h-1.6zM341.6,263.4h1.6v1.6h-1.6zM344.3,255.6h1.6v1.6h-1.6zM342.5,267.9h1.6v1.6h-1.6zM341.7,284.2h1.6v1.6h-1.6zM338.9,331.7h1.6v1.6h-1.6zM339.0,270.9h1.6v1.6h-1.6zM339.7,294.5h1.6v1.6h-1.6zM338.9,306.2h1.6v1.6h-1.6zM341.9,319.1h1.6v1.6h-1.6zM341.6,346.9h1.6v1.6h-1.6zM343.2,268.6h1.6v1.6h-1.6zM339.4,353.4h1.6v1.6h-1.6zM339.0,355.9h1.6v1.6h-1.6zM338.9,351.5h1.6v1.6h-1.6zM339.2,331.1h1.6v1.6h-1.6zM339.9,344.5h1.6v1.6h-1.6zM339.8,255.1h1.6v1.6h-1.6zM339.0,241.4h1.6v1.6h-1.6zM347.1,354.5h1.6v1.6h-1.6zM343.4,303.2h1.6v1.6h-1.6zM339.0,325.9h1.6v1.6h-1.6zM338.8,252.6h1.6v1.6h-1.6zM341.1,304.3h1.6v1.6h-1.6zM339.0,262.5h1.6v1.6h-1.6zM346.3,364.5h1.6v1.6h-1.6zM346.8,247.0h1.6v1.6h-1.6zM339.4,335.9h1.6v1.6h-1.6zM340.0,304.4h1.6v1.6h-1.6zM342.6,240.9h1.6v1.6h-1.6zM340.2,262.1h1.6v1.6h-1.6zM339.0,290.5h1.6v1.6h-1.6zM338.8,304.0h1.6v1.6h-1.6zM342.7,340.6h1.6v1.6h-1.6zM339.8,318.8h1.6v1.6h-1.6zM347.4,303.0h1.6v1.6h-1.6zM346.0,271.9h1.6v1.6h-1.6zM344.3,337.6h1.6v1.6h-1.6zM345.4,352.6h1.6v1.6h-1.6zM343.5,336.3h1.6v1.6h-1.6zM338.8,330.6h1.6v1.6h-1.6zM338.8,298.5h1.6v1.6h-1.6zM341.7,320.0h1.6v1.6h-1.6zM342.2,358.7h1.6v1.6h-1.6zM341.1,322.7h1.6v1.6h-1.6zM347.8,288.5h1.6v1.6h-1.6zM343.5,327.9h1.6v1.6h-1.6zM341.6,242.1h1.6v1.6h-1.6zM344.3,271.7h1.6v1.6h-1.6zM338.8,286.7h1.6v1.6h-1.6zM340.9,353.8h1.6v1.6h-1.6zM341.1,361.5h1.6v1.6h-1.6zM344.2,319.9h1.6v1.6h-1.6zM349.4,314.8h1.6v1.6h-1.6zM340.3,259.4h1.6v1.6h-1.6zM349.5,301.9h1.6v1.6h-1.6zM340.7,292.4h1.6v1.6h-1.6zM339.2,285.4h1.6v1.6h-1.6zM339.2,310.1h1.6v1.6h-1.6zM338.8,276.6h1.6v1.6h-1.6zM338.9,244.6h1.6v1.6h-1.6zM345.7,288.5h1.6v1.6h-1.6zM347.6,245.5h1.6v1.6h-1.6zM345.9,248.5h1.6v1.6h-1.6zM347.2,299.6h1.6v1.6h-1.6zM346.5,305.4h1.6v1.6h-1.6zM347.3,298.4h1.6v1.6h-1.6zM338.9,315.6h1.6v1.6h-1.6zM346.6,296.8h1.6v1.6h-1.6zM340.1,254.9h1.6v1.6h-1.6zM339.2,296.8h1.6v1.6h-1.6zM343.7,292.3h1.6v1.6h-1.6zM346.8,365.4h1.6v1.6h-1.6zM338.8,269.4h1.6v1.6h-1.6z" fill="#000"/>
</svg></body></html>
